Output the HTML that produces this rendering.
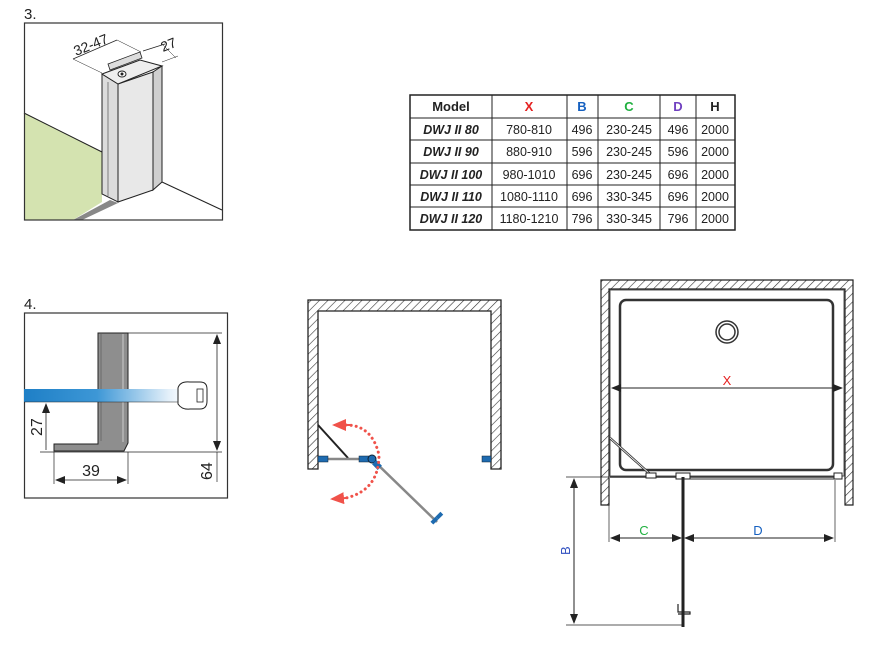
<!DOCTYPE html>
<html><head><meta charset="utf-8"><style>
html,body{margin:0;padding:0;background:#fff;}
svg{display:block;font-family:"Liberation Sans",sans-serif;}
</style></head><body>
<svg width="878" height="656" viewBox="0 0 878 656" xmlns="http://www.w3.org/2000/svg">
<defs>
<pattern id="h" patternUnits="userSpaceOnUse" width="6" height="6" patternTransform="rotate(45)">
<rect width="6" height="6" fill="#fff"/><line x1="0" y1="0" x2="0" y2="6" stroke="#333" stroke-width="1.2"/></pattern>
<linearGradient id="gl" x1="0" x2="1"><stop offset="0" stop-color="#1e7fc6"/><stop offset="0.45" stop-color="#3d97d6"/><stop offset="0.9" stop-color="#e6f1fa"/><stop offset="1" stop-color="#fff"/></linearGradient>
<marker id="a" markerWidth="10" markerHeight="8" refX="9" refY="4" orient="auto-start-reverse" markerUnits="userSpaceOnUse"><path d="M0,0 L10,4 L0,8 z" fill="#222"/></marker>
<marker id="ra" markerWidth="14" markerHeight="12" refX="12" refY="6" orient="auto" markerUnits="userSpaceOnUse"><path d="M0,0 L14,6 L0,12 z" fill="#f0524a"/></marker>
</defs>

<!-- Panel 3 -->
<text x="24" y="19" font-size="15" fill="#222">3.</text>
<polygon points="24,113 102,152 102,202 73,220 24,220" fill="#d4e3b0"/>
<line x1="24" y1="113" x2="102" y2="152" stroke="#222" stroke-width="1"/>
<polygon points="73,220 82,220 118,203 110,200" fill="#888"/>
<line x1="162" y1="182" x2="222" y2="210" stroke="#222" stroke-width="1"/>
<polygon points="102,74 118,84 118,202 102,194" fill="#dcdcdc" stroke="#222" stroke-width="1"/>
<polygon points="118,84 153,72 153,190 118,202" fill="#e8e8e8" stroke="#222" stroke-width="1"/>
<polygon points="153,72 162,66 162,182 153,190" fill="#cfcfcf" stroke="#222" stroke-width="1"/>
<polygon points="102,74 140,60 162,66 118,84" fill="#eee" stroke="#222" stroke-width="1"/>
<polygon points="108,64 140,52 142,58 110,70" fill="#ddd" stroke="#222" stroke-width="0.8"/>
<line x1="108" y1="82" x2="108" y2="196" stroke="#555" stroke-width="0.7"/>
<ellipse cx="122" cy="74" rx="4" ry="3" fill="#fff" stroke="#222"/><circle cx="122" cy="74" r="1.5" fill="#222"/>
<line x1="73" y1="59" x2="117" y2="40" stroke="#222" stroke-width="0.7"/>
<line x1="73" y1="59" x2="102" y2="73" stroke="#222" stroke-width="0.5"/>
<line x1="117" y1="40" x2="141" y2="52" stroke="#222" stroke-width="0.5"/>
<line x1="143" y1="51" x2="165" y2="44" stroke="#222" stroke-width="0.7"/>
<line x1="162" y1="44" x2="176" y2="58" stroke="#222" stroke-width="0.5"/>
<line x1="162" y1="62" x2="178" y2="56" stroke="#222" stroke-width="0.5"/>
<text x="76" y="56" font-size="14" fill="#222" transform="rotate(-22 76 56)">32-47</text>
<text x="163" y="52" font-size="14" fill="#222" transform="rotate(-22 163 52)">27</text>
<rect x="24.5" y="23" width="198" height="197" fill="none" stroke="#333" stroke-width="1.2"/>

<!-- Table -->
<g font-size="12.5" text-anchor="middle" fill="#222">
<rect x="410" y="95" width="325" height="135" fill="#fff" stroke="#222" stroke-width="1.5"/>
<g stroke="#222" stroke-width="1">
<line x1="492" y1="95" x2="492" y2="230"/><line x1="567" y1="95" x2="567" y2="230"/><line x1="598" y1="95" x2="598" y2="230"/><line x1="660" y1="95" x2="660" y2="230"/><line x1="696" y1="95" x2="696" y2="230"/>
<line x1="410" y1="118" x2="735" y2="118"/><line x1="410" y1="140" x2="735" y2="140"/><line x1="410" y1="163" x2="735" y2="163"/><line x1="410" y1="185" x2="735" y2="185"/><line x1="410" y1="207" x2="735" y2="207"/>
</g>
<g font-weight="bold" font-size="13">
<text x="451" y="111">Model</text><text x="529" y="111" fill="#e52020">X</text><text x="582" y="111" fill="#1560c0">B</text><text x="629" y="111" fill="#20b040">C</text><text x="678" y="111" fill="#7040c0">D</text><text x="715" y="111">H</text>
</g>
<g font-weight="bold" font-style="italic">
<text x="451" y="134">DWJ II 80</text><text x="451" y="156">DWJ II 90</text><text x="451" y="179">DWJ II 100</text><text x="451" y="201">DWJ II 110</text><text x="451" y="223">DWJ II 120</text>
</g>
<text x="529" y="134">780-810</text><text x="582" y="134">496</text><text x="629" y="134">230-245</text><text x="678" y="134">496</text><text x="715" y="134">2000</text>
<text x="529" y="156">880-910</text><text x="582" y="156">596</text><text x="629" y="156">230-245</text><text x="678" y="156">596</text><text x="715" y="156">2000</text>
<text x="529" y="179">980-1010</text><text x="582" y="179">696</text><text x="629" y="179">230-245</text><text x="678" y="179">696</text><text x="715" y="179">2000</text>
<text x="529" y="201">1080-1110</text><text x="582" y="201">696</text><text x="629" y="201">330-345</text><text x="678" y="201">696</text><text x="715" y="201">2000</text>
<text x="529" y="223">1180-1210</text><text x="582" y="223">796</text><text x="629" y="223">330-345</text><text x="678" y="223">796</text><text x="715" y="223">2000</text>
</g>

<!-- Panel 4 -->
<text x="24" y="309" font-size="15" fill="#222">4.</text>
<rect x="24.5" y="313" width="203" height="185" fill="none" stroke="#333" stroke-width="1.2"/>
<path d="M98,333 L128,333 L128,443 L124,451 L54,451 L54,444 L98,444 Z" fill="#8e8e8e" stroke="#222" stroke-width="1"/>
<line x1="123" y1="334" x2="123" y2="442" stroke="#ccc" stroke-width="1"/>
<line x1="101" y1="334" x2="101" y2="441" stroke="#555" stroke-width="0.6"/>
<rect x="24" y="389" width="162" height="13" fill="url(#gl)"/>
<line x1="24" y1="402" x2="186" y2="402" stroke="#222" stroke-width="0.6"/>
<path d="M178,388 Q180,381 190,382 L200,382 Q207,382 207,389 L207,401 Q207,409 200,409 L190,409 Q182,410 178,404 Z" fill="#fff" stroke="#222" stroke-width="1"/>
<rect x="197" y="389" width="6" height="13" fill="#fff" stroke="#222" stroke-width="0.8"/>
<line x1="128" y1="333" x2="222" y2="333" stroke="#222" stroke-width="0.7"/>
<line x1="40" y1="452" x2="222" y2="452" stroke="#222" stroke-width="0.7"/>
<line x1="217" y1="335" x2="217" y2="450" stroke="#222" stroke-width="0.8" marker-start="url(#a)" marker-end="url(#a)"/>
<line x1="217" y1="452" x2="217" y2="482" stroke="#222" stroke-width="0.7"/>
<text x="0" y="0" font-size="16" fill="#222" transform="translate(212,480) rotate(-90)">64</text>
<line x1="46" y1="404" x2="46" y2="450" stroke="#222" stroke-width="0.8" marker-start="url(#a)"/>
<text x="0" y="0" font-size="16" fill="#222" transform="translate(42,436) rotate(-90)">27</text>
<line x1="54" y1="452" x2="54" y2="484" stroke="#222" stroke-width="0.7"/>
<line x1="128" y1="452" x2="128" y2="484" stroke="#222" stroke-width="0.7"/>
<line x1="56" y1="480" x2="126" y2="480" stroke="#222" stroke-width="0.8" marker-start="url(#a)" marker-end="url(#a)"/>
<text x="91" y="476" font-size="16" fill="#222" text-anchor="middle">39</text>

<!-- Middle plan -->
<path d="M308,300 L501,300 L501,469 L491,469 L491,311 L318,311 L318,469 L308,469 Z" fill="url(#h)" stroke="#222" stroke-width="1.3"/>
<line x1="318" y1="425" x2="348" y2="458" stroke="#222" stroke-width="2"/>
<line x1="322" y1="459" x2="366" y2="459" stroke="#888" stroke-width="2.5"/>
<rect x="318" y="456" width="10" height="6" fill="#1e6bb0" stroke="#123" stroke-width="0.5"/>
<rect x="359" y="456" width="10" height="6" fill="#1e6bb0" stroke="#123" stroke-width="0.5"/>
<rect x="482" y="456" width="9" height="6" fill="#1e6bb0" stroke="#123" stroke-width="0.5"/>
<line x1="374" y1="461" x2="437" y2="522" stroke="#888" stroke-width="2.5"/>
<circle cx="372" cy="459" r="4" fill="#1e6bb0" stroke="#123"/>
<rect x="374" y="461" width="6" height="8" fill="#1e6bb0" transform="rotate(-45 377 465)"/>
<rect x="431" y="519" width="7" height="4" fill="#1e6bb0" transform="rotate(-45 434 521)"/>
<rect x="436" y="514" width="7" height="4" fill="#1e6bb0" transform="rotate(-45 439 516)"/>
<path d="M346,425 Q372,425 379,455 Q379,490 346,498" fill="none" stroke="#f0524a" stroke-width="3" stroke-linecap="round" stroke-dasharray="0.1 5"/>
<path d="M350,425 L334,425" stroke="#f0524a" stroke-width="2" marker-end="url(#ra)"/>
<path d="M346,498 L332,499" stroke="#f0524a" stroke-width="2" marker-end="url(#ra)"/>

<!-- Right plan -->
<path d="M601,280 L853,280 L853,505 L845,505 L845,289 L609,289 L609,505 L601,505 Z" fill="url(#h)" stroke="#222" stroke-width="1.2"/>
<rect x="610" y="290" width="234" height="186" fill="none" stroke="#555" stroke-width="1"/>
<rect x="620" y="300" width="213" height="170" rx="6" fill="none" stroke="#333" stroke-width="2.5"/>
<circle cx="727" cy="332" r="11" fill="none" stroke="#333" stroke-width="1.5"/>
<circle cx="727" cy="332" r="8" fill="none" stroke="#333" stroke-width="1.5"/>
<line x1="612" y1="388" x2="842" y2="388" stroke="#222" stroke-width="1" marker-start="url(#a)" marker-end="url(#a)"/>
<text x="727" y="385" font-size="13" fill="#e52020" text-anchor="middle">X</text>
<line x1="610" y1="438" x2="650" y2="474" stroke="#333" stroke-width="2.5"/>
<line x1="610" y1="438" x2="650" y2="474" stroke="#fff" stroke-width="0.8"/>
<line x1="610" y1="477" x2="842" y2="477" stroke="#333" stroke-width="1.5"/>
<line x1="683" y1="479" x2="842" y2="479" stroke="#333" stroke-width="1"/>
<rect x="646" y="473" width="10" height="5" fill="#fff" stroke="#222"/>
<rect x="676" y="473" width="14" height="6" fill="#fff" stroke="#222"/>
<rect x="834" y="473" width="8" height="6" fill="#fff" stroke="#222"/>
<line x1="683" y1="477" x2="683" y2="627" stroke="#222" stroke-width="3"/>
<path d="M678,604 L678,612 L690,612 L690,614 L678,614" fill="none" stroke="#222" stroke-width="1.2"/>
<line x1="566" y1="477" x2="609" y2="477" stroke="#222" stroke-width="0.7"/>
<line x1="566" y1="625" x2="683" y2="625" stroke="#222" stroke-width="0.7"/>
<line x1="574" y1="479" x2="574" y2="623" stroke="#222" stroke-width="1" marker-start="url(#a)" marker-end="url(#a)"/>
<text x="0" y="0" font-size="13" fill="#3050c0" transform="translate(570,555) rotate(-90)">B</text>
<line x1="609" y1="480" x2="609" y2="542" stroke="#222" stroke-width="0.7"/>
<line x1="835" y1="480" x2="835" y2="542" stroke="#222" stroke-width="0.7"/>
<line x1="611" y1="538" x2="681" y2="538" stroke="#222" stroke-width="1" marker-start="url(#a)" marker-end="url(#a)"/>
<line x1="685" y1="538" x2="833" y2="538" stroke="#222" stroke-width="1" marker-start="url(#a)" marker-end="url(#a)"/>
<text x="644" y="535" font-size="13" fill="#20b040" text-anchor="middle">C</text>
<text x="758" y="535" font-size="13" fill="#1560c0" text-anchor="middle">D</text>
</svg>
</body></html>
